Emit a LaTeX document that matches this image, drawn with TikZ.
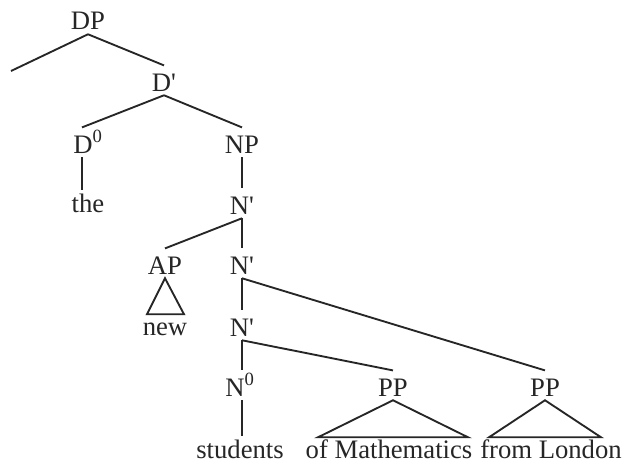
\documentclass[tikz,border=0pt]{standalone}
\usepackage{fontspec}
\setmainfont{Liberation Serif}[Ligatures=TeXOff]

\begin{document}
\begin{tikzpicture}[
        x=0.75pt,
        y=-0.75pt,
        every node/.style={font=\fontsize{20}{24}\selectfont, text=black!85, inner sep=0pt},
        cat/.style={
            anchor=base,
            text height=19pt,
            text depth=3pt
        },
        word/.style={
            anchor=base,
            text height=16pt,
            text depth=4.5pt
        },
        branch/.style={draw=black!85, line width=1.4pt}
    ]
    \useasboundingbox (0,0) rectangle (625,464);

    % DP and D'
    \node[cat] (dp) at (88,30) {DP};
    \coordinate (dpl) at (11,71);
    \draw[branch] (dp.south) -- (dpl);

    \node[cat] (dbar) at (164,91) {D'};
    \draw[branch] (dp.south) -- (dbar.north);

    % determiner
    \node[cat] (d0) at (88,153) {D\textsuperscript{0}};
    \draw[branch] (dbar.south) -- ([xshift=-4.5pt]d0.north);

    \node[word] (the) at (88,212) {the};
    \draw[branch] ([xshift=-4.5pt]d0.south) -- ([xshift=-4.5pt]the.north);

    % NP branch
    \node[cat] (np) at (242,153) {NP};
    \draw[branch] (dbar.south) -- (np.north);

    \node[cat] (nbar1) at (242,214) {N'};
    \draw[branch] (np.south) -- (nbar1.north);

    \node[cat] (ap) at (165,274) {AP};
    \draw[branch] (nbar1.south) -- (ap.north);

    \node[word] (new) at (165,335) {new};
    \draw[branch] (ap.south) -- ++(-18,36) -- ++(37,0) -- cycle;

    \node[cat] (nbar2) at (242,274) {N'};
    \draw[branch] (nbar1.south) -- (nbar2.north);

    \node[cat] (nbar3) at (242,336) {N'};
    \draw[branch] (nbar2.south) -- (nbar3.north);

    % head noun
    \node[cat] (n0) at (240,396) {N\textsuperscript{0}};
    \draw[branch] (nbar3.south) -- ([xshift=1.5pt]n0.north);

    \node[word] (students) at (240,458) {students};
    \draw[branch] ([xshift=1.5pt]n0.south) -- ([xshift=1.5pt]students.north);

    % PP adjuncts
    \node[cat] (pp1) at (393,396) {PP};
    \draw[branch] (nbar3.south) -- (pp1.north);

    \node[word] (math) at (389,458) {of Mathematics};
    \draw[branch] (pp1.south) -- ++(-75,37) -- ++(150,0) -- cycle;

    \node[cat] (pp2) at (545,396) {PP};
    \draw[branch] (nbar2.south) -- (pp2.north);

    \node[word] (london) at (551,458) {from London};
    \draw[branch] (pp2.south) -- ++(-56,37) -- ++(112,0) -- cycle;

    \end{tikzpicture}
\end{document}
